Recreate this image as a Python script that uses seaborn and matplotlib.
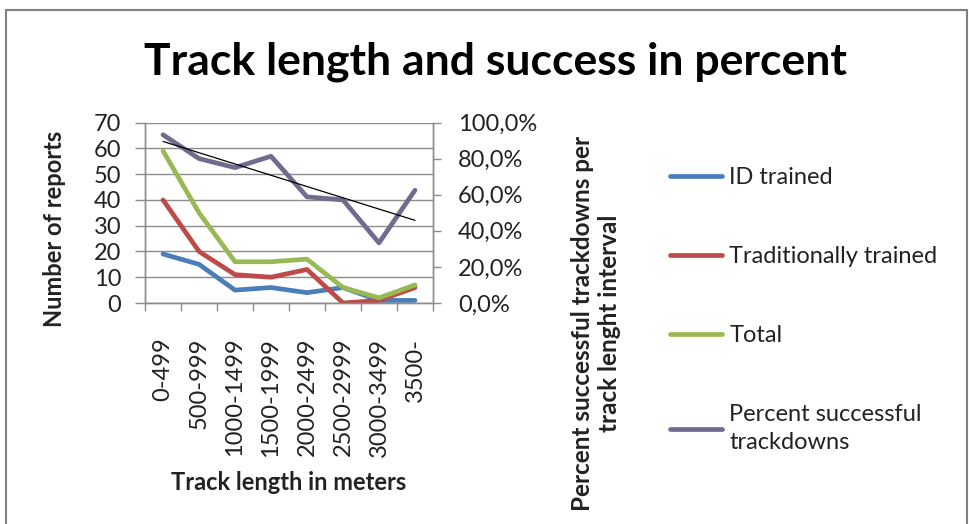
import matplotlib
matplotlib.use("Agg")
import matplotlib.pyplot as plt
import seaborn as sns
import numpy as np
from matplotlib.ticker import FuncFormatter, FixedLocator
from matplotlib.patches import Rectangle

# data
categories = ["0-499", "500-999", "1000-1499", "1500-1999",
              "2000-2499", "2500-2999", "3000-3499", "3500-"]
id_trained = [19, 15, 5, 6, 4, 6, 1, 1]
trad_trained = [40, 20, 11, 10, 13, 0, 1, 6]
total = [59, 35, 16, 16, 17, 6, 2, 7]
pct_success = [93.2, 80.0, 75.0, 81.3, 58.8, 57.1, 33.3, 62.5]

c_blue = "#4a7ebb"
c_red = "#be4b48"
c_green = "#98b954"
c_pct = "#716b8e"
c_grid = "#8c8c8c"
c_text = "#222222"

sns.set_theme(style="white")
plt.rcParams['font.family'] = ['Lato', 'DejaVu Sans']
fs = 17

fig = plt.figure(figsize=(9.69, 5.24), dpi=100)
ax = fig.add_axes([145 / 969, 1 - 303 / 524, 288 / 969, 180.5 / 524])
ax2 = ax.twinx()

x = np.arange(len(categories))
lw = 3.4
sns.lineplot(x=x, y=id_trained, ax=ax, color=c_blue, lw=lw, legend=False)
sns.lineplot(x=x, y=trad_trained, ax=ax, color=c_red, lw=lw, legend=False)
sns.lineplot(x=x, y=total, ax=ax, color=c_green, lw=lw, legend=False)
sns.lineplot(x=x, y=pct_success, ax=ax2, color=c_pct, lw=lw, legend=False)
# linear trendline like the original
sns.regplot(x=x, y=pct_success, ax=ax2, scatter=False, ci=None, truncate=True,
            line_kws=dict(color="black", lw=0.9))

ax.set_xlim(-0.5, len(categories) - 0.5)
ax.set_ylim(0, 70)
ax2.set_ylim(0, 100)
ax.set_yticks(range(0, 71, 10))
ax2.set_yticks(range(0, 101, 20))
ax2.yaxis.set_major_formatter(FuncFormatter(lambda v, p: f"{v:.1f}%".replace(".", ",")))

ax.set_xticks(x)
ax.set_xticklabels(categories, rotation=90, fontsize=fs, color=c_text)
ax.xaxis.set_minor_locator(FixedLocator(np.arange(-0.5, len(categories), 1)))
ax.tick_params(axis="x", which="major", length=0, pad=25)
ax.tick_params(axis="x", which="minor", length=6, width=1, color=c_grid, direction="out", bottom=True)
ax.tick_params(axis="y", length=7, width=1, color=c_grid, direction="out", left=True,
               labelsize=fs, labelcolor=c_text, pad=10)
ax2.tick_params(axis="y", length=6, width=1, color=c_grid, direction="out", right=True,
                labelsize=fs, labelcolor=c_text, pad=12)

ax.yaxis.grid(True, color=c_grid, lw=1)
ax.set_axisbelow(True)
for a in (ax, ax2):
    a.spines["top"].set_visible(False)
    for s in ("left", "right", "bottom"):
        a.spines[s].set_color(c_grid)
        a.spines[s].set_linewidth(1)
ax.set_xlabel("")
ax.set_ylabel("")
ax2.set_ylabel("")

fig.text(55 / 969, 1 - 229 / 524, "Number of reports", rotation=90, fontsize=fs,
         fontweight="bold", ha="center", va="center", color=c_text)
fig.text(289 / 969, 1 - 483 / 524, "Track length in meters", fontsize=fs,
         fontweight="bold", ha="center", va="center", color=c_text)
fig.text(596 / 969, 1 - 323 / 524, "Percent successful trackdowns per\ntrack lenght interval",
         rotation=90, fontsize=17.5, fontweight="bold", ha="center", va="center",
         multialignment="center", linespacing=1.2, color=c_text)

fig.text(495 / 969, 1 - 62 / 524, "Track length and success in percent",
         fontsize=32, fontweight="bold", ha="center", va="center", color="black")

handles = ax.get_lines()[:3] + ax2.get_lines()[:1]
labels = ["ID trained", "Traditionally trained", "Total", "Percent successful\ntrackdowns"]
leg = fig.legend(handles, labels, loc="upper left", bbox_to_anchor=(649 / 969, 1 - 146 / 524),
                 frameon=False, fontsize=fs, labelspacing=2.45, handlelength=2.2,
                 handletextpad=0.3, labelcolor=c_text)
for t in leg.get_texts():
    t.set_linespacing(1.45)

fig.patches.append(Rectangle((6 / 969, -0.02), 961 / 969, 1.02 - 10 / 524, transform=fig.transFigure,
                             fill=False, edgecolor="#808080", lw=1.5))

fig.savefig("out.png", dpi=100)
